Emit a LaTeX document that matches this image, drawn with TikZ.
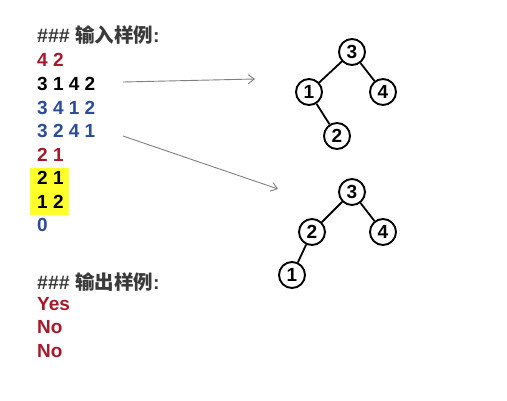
\documentclass[tikz,border=0pt]{standalone}
\usepackage{fontspec}
\setmainfont{Liberation Sans}
\newfontfamily\cjk{Noto Sans CJK SC}
\usetikzlibrary{arrows.meta}
\definecolor{myred}{HTML}{A8182A}
\definecolor{myblue}{HTML}{2B4C9B}
\definecolor{myhead}{HTML}{3A3A3A}
\definecolor{myyellow}{HTML}{FFFF2A}
\definecolor{myarrow}{HTML}{808080}
\begin{document}
\begin{tikzpicture}[x=1pt,y=-1pt,
  txt/.style={anchor=base west,inner sep=0pt,font=\fontsize{19}{22}\selectfont\bfseries},
  head/.style={anchor=base west,inner sep=0pt,font=\fontsize{19.5}{22}\selectfont\bfseries,text=myhead},
  tn/.style={circle,draw=black,line width=1.9pt,minimum size=26pt,inner sep=0pt,font=\fontsize{19}{22}\selectfont\bfseries,fill=white},
  edge/.style={line width=1.8pt},
  arr/.style={draw=myarrow,line width=0.9pt,-{Straight Barb[length=6pt,width=9pt]}}]
\useasboundingbox (0,0) rectangle (507,400);
\fill[white] (0,0) rectangle (507,400);
\fill[myyellow] (30,168) rectangle (69,215);
\node[head] (h1) at (37,42) {\#\#\# {\cjk\bfseries 输入样例}:};
\node[txt,text=myred] (l1) at (37,66) {4 2};
\node[txt,text=black] (l2) at (37,90) {3 1 4 2};
\node[txt,text=myblue] (l3) at (37,114) {3 4 1 2};
\node[txt,text=myblue] (l4) at (37,137) {3 2 4 1};
\node[txt,text=myred] (l5) at (37,161) {2 1};
\node[txt,text=black] (l6) at (37,184) {2 1};
\node[txt,text=black] (l7) at (37,208) {1 2};
\node[txt,text=myblue] (l8) at (37,231) {0};
\node[head] (h2) at (37,289) {\#\#\# {\cjk\bfseries 输出样例}:};
\node[txt,text=myred] (o1) at (37,310) {Yes};
\node[txt,text=myred] (o2) at (37,333) {No};
\node[txt,text=myred] (o3) at (37,357) {No};
% trees
\node[tn] (a3) at (352,52) {3};
\node[tn] (a1) at (309,92) {1};
\node[tn] (a4) at (383,92) {4};
\node[tn] (a2) at (337,136) {2};
\draw[edge] (a3) -- (a1);
\draw[edge] (a3) -- (a4);
\draw[edge] (a1) -- (a2);
\node[tn] (b3) at (352,192) {3};
\node[tn] (b2) at (312,232) {2};
\node[tn] (b4) at (383,232) {4};
\node[tn] (b1) at (292,275) {1};
\draw[edge] (b3) -- (b2);
\draw[edge] (b3) -- (b4);
\draw[edge] (b2) -- (b1);
% arrows
\coordinate (s1) at (123,82);
\coordinate (e1) at (255,79);
\coordinate (s2) at (123,136);
\coordinate (e2) at (278,189);
\draw[arr] (s1) -- (e1);
\draw[arr] (s2) -- (e2);
\end{tikzpicture}
\end{document}
